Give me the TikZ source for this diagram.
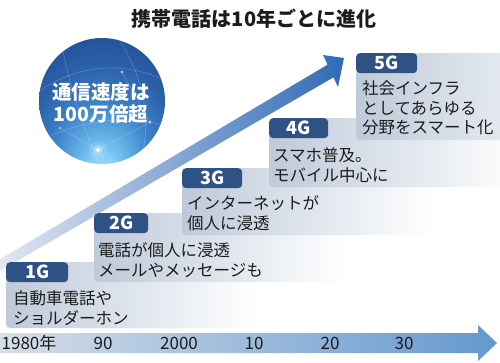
\documentclass[tikz,border=0pt]{standalone}
\usepackage{fontspec}
\setmainfont{Noto Sans CJK JP}
\definecolor{tabblue}{RGB}{46,82,132}
\definecolor{panelc}{RGB}{190,202,217}
\definecolor{txt}{RGB}{28,28,28}
\definecolor{arrlight}{RGB}{230,234,244}
\definecolor{arrmid}{RGB}{152,174,220}
\definecolor{arrdark}{RGB}{48,106,182}
\definecolor{tlleft}{RGB}{214,222,233}
\definecolor{tlright}{RGB}{100,152,206}
\definecolor{gA}{RGB}{185,232,252}
\definecolor{gB}{RGB}{110,190,238}
\definecolor{gC}{RGB}{62,132,202}
\definecolor{gD}{RGB}{42,96,168}
\definecolor{gE}{RGB}{32,72,145}
\definecolor{gF}{RGB}{24,55,118}
\pgfdeclareradialshading{globeshade}{\pgfpoint{0bp}{-30bp}}{color(0bp)=(gA); color(8bp)=(gB); color(18bp)=(gC); color(28bp)=(gD); color(40bp)=(gE); color(50bp)=(gF)}
\begin{document}
\begin{tikzpicture}[x=1pt,y=-1pt,
  tabbox/.style={fill=tabblue, rounded corners=4pt, text=white, font=\fontsize{18}{18}\selectfont\bfseries, inner sep=0pt, minimum height=20pt, anchor=north west},
  paneltext/.style={text=txt, font=\fontsize{16.5}{19.5}\selectfont, align=left, inner sep=0pt, anchor=west},
  yearlabel/.style={text=txt, font=\fontsize{17}{17}\selectfont, inner sep=0pt},
  panelbody/.style={left color=panelc, right color=white, rounded corners=4pt},
  netline/.style={white, opacity=0.22, line width=0.6pt},
]
\clip (0,0) rectangle (500,362);
\fill[white] (0,0) rectangle (500,362);

% title
\node[text=txt, font=\fontsize{20}{20}\selectfont\bfseries, inner sep=0pt] (title) at (254,19) {携帯電話は10年ごとに進化};

% globe
\node[circle, minimum size=126pt, inner sep=0pt, shading=globeshade] (globe) at (102,101) {};
\begin{scope}
\clip (102,101) circle (63);
\draw[netline] (38,92) .. controls (80,62) and (130,62) .. (168,82);
\draw[netline] (118,38) .. controls (145,80) and (152,120) .. (140,165);
\draw[netline] (42,140) .. controls (80,120) and (130,114) .. (166,126);
\draw[netline] (62,46) .. controls (70,90) and (85,130) .. (98,162);
\draw[netline] (122,72) -- (150,122) -- (98,150) -- (60,128);
\fill[white, opacity=0.55] (122,72) circle (1.6);
\fill[white, opacity=0.55] (150,122) circle (1.6);
\fill[white, opacity=0.45] (60,128) circle (1.3);
\fill[white, opacity=0.12] (98,150) circle (9);
\fill[white, opacity=0.25] (98,150) circle (5);
\fill[white, opacity=0.8] (98,150) circle (2);
\end{scope}
\node[text=white, font=\fontsize{19.5}{22}\selectfont\bfseries, align=center, inner sep=0pt] (globetext) at (101,103) {通信速度は\\100万倍超};

% big rising arrow
\shade[left color=arrlight, middle color=arrmid, right color=arrdark]
  (-7.5,263.7) -- (327.5,64.7) -- (323,55) -- (344,58) -- (338,87) -- (333.5,77.3) -- (-2.5,272.3) -- cycle;

% 1G
\shade[panelbody] (6,262) rectangle (256,328);
\node[tabbox, minimum width=62pt] (t1) at (6,262) {1G};
\node[paneltext] (p1) at (13,308) {自動車電話や\\ショルダーホン};
% 2G
\shade[panelbody] (94,213) rectangle (344,282);
\node[tabbox, minimum width=54pt] (t2) at (94,213) {2G};
\node[paneltext] (p2) at (98,260) {電話が個人に浸透\\メールやメッセージも};
% 3G
\shade[panelbody] (182,168) rectangle (432,235);
\node[tabbox, minimum width=60pt] (t3) at (182,168) {3G};
\node[paneltext] (p3) at (187,213) {インターネットが\\個人に浸透};
% 4G
\shade[panelbody] (269,118) rectangle (519,187);
\node[tabbox, minimum width=59pt] (t4) at (269,118) {4G};
\node[paneltext] (p4) at (273,165) {スマホ普及。\\モバイル中心に};
% 5G
\shade[panelbody] (356,53) rectangle (606,140);
\node[tabbox, minimum width=61pt] (t5) at (356,53) {5G};
\node[paneltext] (p5) at (362,108) {社会インフラ\\としてあらゆる\\分野をスマート化};

% timeline
\shade[left color=tlleft, right color=tlright]
  (0,333) -- (478,333) -- (478,325) -- (497,343) -- (478,361) -- (478,353) -- (0,353) -- cycle;
\node[yearlabel] (y1) at (29,343) {1980年};
\node[yearlabel] (y2) at (103,343) {90};
\node[yearlabel] (y3) at (179,343) {2000};
\node[yearlabel] (y4) at (254,343) {10};
\node[yearlabel] (y5) at (330,343) {20};
\node[yearlabel] (y6) at (404,343) {30};
\end{tikzpicture}
\end{document}
